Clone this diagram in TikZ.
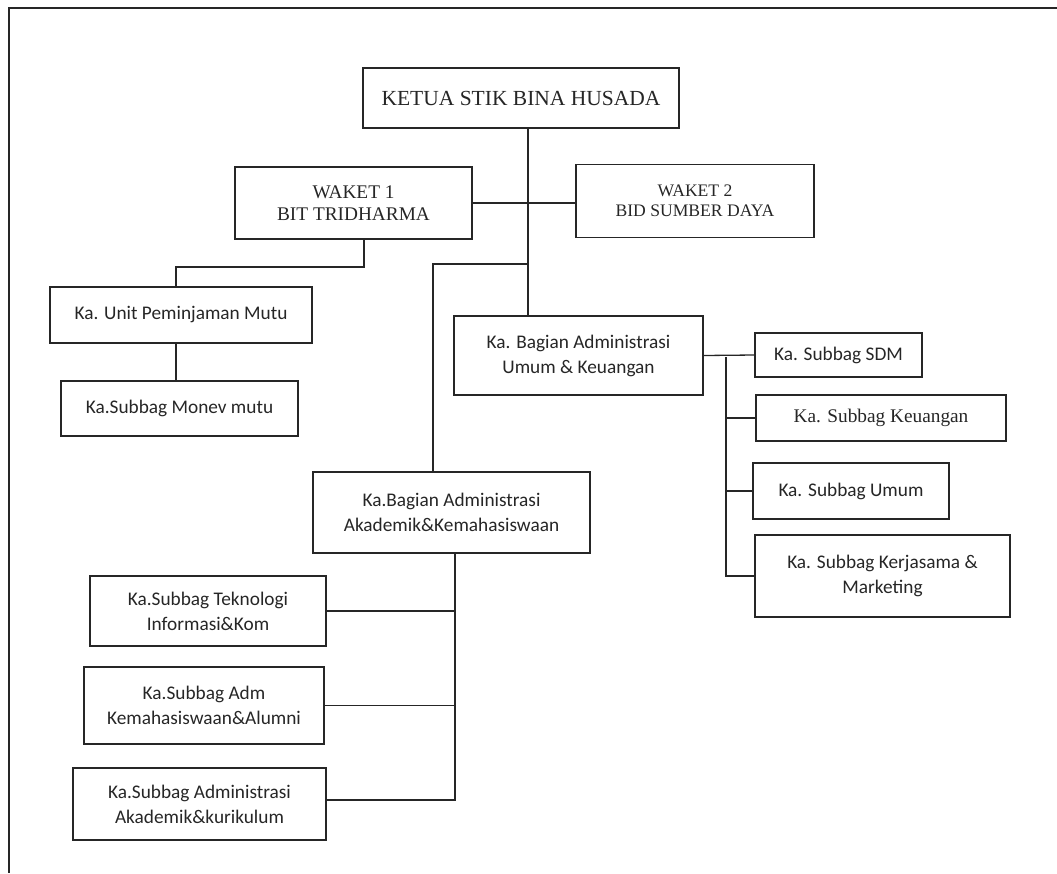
\documentclass[tikz,border=0pt]{standalone}
\usepackage{fontspec}
\setmainfont{Liberation Serif}
\newfontfamily\calibri{Carlito}
\newcommand{\tnr}[2]{\fontsize{#1}{#2}\selectfont}
\tikzset{
  box/.style={draw, line width=1.3pt, align=center, inner sep=0pt, font=\calibri\fontsize{19.3}{25}\selectfont},
  tnrbox/.style={box, font=\tnr{19.3}{21.5}}
}
\begin{document}
\begin{tikzpicture}[x=1pt, y=-1pt, line width=1.3pt, black!85]
  \useasboundingbox (0,0) rectangle (1057,873);
  \draw (1057,8) -- (9,8) -- (9,873);
  \node[tnrbox, font=\tnr{21.5}{26}, minimum width=316pt, minimum height=60pt] (ketua) at (521,98) {KETUA STIK BINA HUSADA};
  \node[tnrbox, minimum width=237pt, minimum height=72pt] (waket1) at (353.5,203) {WAKET 1\\BIT TRIDHARMA};
  \node[tnrbox, font=\tnr{17.6}{20.5}, minimum width=238pt, minimum height=73pt] (waket2) at (695,201) {WAKET 2\\BID SUMBER DAYA};
  \node[box, minimum width=262pt, minimum height=56pt] (unitmutu) at (181,315) {Ka. Unit Peminjaman Mutu};
  \node[box, minimum width=237pt, minimum height=55pt] (monev) at (179.5,408.5) {Ka.Subbag Monev mutu};
  \node[box, minimum width=249pt, minimum height=79pt] (bagumum) at (578.5,355.5) {Ka. Bagian Administrasi\\Umum \& Keuangan};
  \node[box, minimum width=277pt, minimum height=81pt] (bagakad) at (451.5,512.5) {Ka.Bagian Administrasi\\Akademik\&Kemahasiswaan};
  \node[box, minimum width=167pt, minimum height=44pt] (sdm) at (838.5,355) {Ka. Subbag SDM};
  \node[tnrbox, font=\tnr{19.3}{23}, minimum width=250pt, minimum height=46pt] (keu) at (881,418) {Ka. Subbag Keuangan};
  \node[box, minimum width=196pt, minimum height=56pt] (umum) at (851,491) {Ka. Subbag Umum};
  \node[box, minimum width=255pt, minimum height=82pt] (kerja) at (882.5,576) {Ka. Subbag Kerjasama \&\\Marketing};
  \node[box, minimum width=236pt, minimum height=70pt] (tik) at (208,611) {Ka.Subbag Teknologi\\Informasi\&Kom};
  \node[box, minimum width=240pt, minimum height=77pt] (kemhs) at (204,705.5) {Ka.Subbag Adm\\Kemahasiswaan\&Alumni};
  \node[box, minimum width=253pt, minimum height=72pt] (kurik) at (199.5,804) {Ka.Subbag Administrasi\\Akademik\&kurikulum};
  \coordinate (spine) at (528,0);
  \coordinate (w1bend) at (364,267);
  \coordinate (unitbend) at (176,267);
  \coordinate (akadbend) at (433,264);
  \coordinate (umbus) at (726,357);
  \coordinate (akbus) at (455,0);
  \draw (spine |- ketua.south) -- (spine |- bagumum.north);
  \draw (waket1.east) -- (waket1.east -| waket2.west);
  \draw (w1bend |- waket1.south) -- (w1bend) -- (unitbend) -- (unitbend |- unitmutu.north);
  \draw (unitbend |- unitmutu.south) -- (unitbend |- monev.north);
  \draw (spine |- akadbend) -- (akadbend) -- (akadbend |- bagakad.north);
  \draw (bagumum.east) -- (sdm.west);
  \draw (umbus) |- (kerja.west);
  \draw (umbus |- keu.west) -- (keu.west);
  \draw (umbus |- umum.west) -- (umum.west);
  \draw (akbus |- bagakad.south) |- ([yshift=4pt]kurik.east);
  \draw (akbus |- tik.east) -- (tik.east);
  \draw (akbus |- kemhs.east) -- (kemhs.east);
\end{tikzpicture}
\end{document}
